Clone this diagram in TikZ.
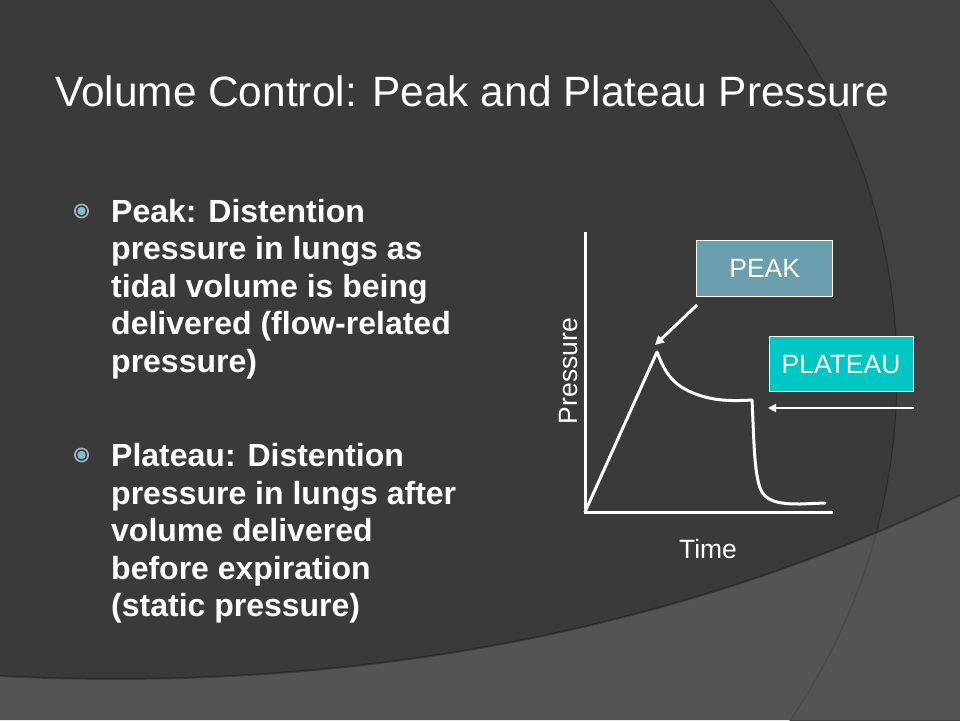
\documentclass[tikz,border=0pt]{standalone}
\usepackage{fontspec}
\setmainfont{Liberation Sans}
\usetikzlibrary{arrows.meta}
\definecolor{bgbase}{HTML}{3A3A3A}
\definecolor{bgright}{HTML}{414141}
\definecolor{bgbottom}{HTML}{545454}
\definecolor{arcline}{HTML}{4A4A4A}
\definecolor{peakfill}{HTML}{6B9FAE}
\definecolor{platfill}{HTML}{00C6C4}
\definecolor{ringcol}{HTML}{A3B4BC}
\definecolor{dotcol}{HTML}{86BBCE}
\tikzset{
  titletext/.style={text=white,font=\fontsize{42.4}{50}\selectfont,inner sep=0pt,anchor=base west},
  bodytext/.style={text=white,font=\bfseries\fontsize{32}{37.6}\selectfont,inner sep=0pt,anchor=base west},
  labeltext/.style={text=white,font=\fontsize{26.5}{30}\selectfont,inner sep=0pt},
  tagbox/.style={draw=white,line width=0.8pt,text=white,font=\fontsize{26.5}{30}\selectfont,inner sep=0pt},
  curveline/.style={white,line width=3pt,line join=round,line cap=round},
  axisline/.style={white,line width=3pt},
  pointer/.style={white,line width=3pt,-{Triangle[length=9pt,width=9pt]}},
}
\begin{document}
\begin{tikzpicture}[x=1pt,y=-1pt]
\useasboundingbox (0,0) rectangle (960,720);
% background
\fill[bgbase] (0,0) rectangle (960,720);
\begin{scope}
  \clip (0,0) rectangle (960,720);
  \fill[bgright,even odd rule] (-10,-10) rectangle (970,730) (283,374) circle (614);
  \draw[black,opacity=0.25,line width=1.2pt] (283,374) circle (614);
  \fill[bgbottom] (0,676) .. controls (380,695) and (700,620) .. (960,495) -- (960,720) -- (0,720) -- cycle;
  \begin{scope}
    \clip (0,676) .. controls (380,695) and (700,620) .. (960,495) -- (960,720) -- (0,720) -- cycle;
    \draw[arcline,line width=1.5pt] (283,374) circle (614);
  \end{scope}
  \draw[black,opacity=0.3,line width=2pt] (0,676) .. controls (380,695) and (700,620) .. (960,495);
\end{scope}
% title
\node[titletext] (title) at (55,106) {Volume Control: Peak and Plateau Pressure};
% bullets
\foreach \n/\yy in {b1/211,b2/455}{
  \draw[ringcol,line width=1.7pt] (81.5,\yy) circle (6.6);
  \fill[dotcol] (81.5,\yy) circle (4.2);
}
\node[bodytext] (t1) at (111,222) {\parbox[t]{420pt}{\raggedright
Peak: Distention\\
pressure in lungs as\\
tidal volume is being\\
delivered (flow-related\\
pressure)}};
\node[bodytext] (t2) at (111,466.5) {\parbox[t]{420pt}{\raggedright
Plateau: Distention\\
pressure in lungs after\\
volume delivered\\
before expiration\\
(static pressure)}};
% graph
\coordinate (origin) at (585,512);
\coordinate (ytop) at (585,232);
\coordinate (xend) at (833,512);
\draw[axisline] (ytop) -- (origin) -- (xend);
\coordinate (peakpt) at (657,352);
\draw[curveline] (origin) -- (peakpt)
  .. controls (665,372) and (672,388) .. (705,397)
  .. controls (720,401) and (735,401) .. (752,400)
  .. controls (754,440) and (754,470) .. (760,488)
  .. controls (765,502) and (780,504) .. (800,504)
  -- (825,503);
\node[labeltext,rotate=90] (plabel) at (569,371) {Pressure};
\node[labeltext] (tlabel) at (708,549) {Time};
\node[tagbox,fill=peakfill,minimum width=136pt,minimum height=56pt] (peak) at (764.7,268.5) {PEAK};
\node[tagbox,fill=platfill,minimum width=144pt,minimum height=55pt] (plat) at (841,364.2) {PLATEAU};
\coordinate (peakarrowstart) at (697,305);
\coordinate (peakarrowend) at (655,345);
\draw[pointer] (peakarrowstart) -- (peakarrowend);
\coordinate (platarrowstart) at (914,408);
\coordinate (platarrowend) at (768,408);
\draw[white,line width=2.5pt,-{Triangle[length=8pt,width=8pt]}] (platarrowstart) -- (platarrowend);
\end{tikzpicture}
\end{document}
